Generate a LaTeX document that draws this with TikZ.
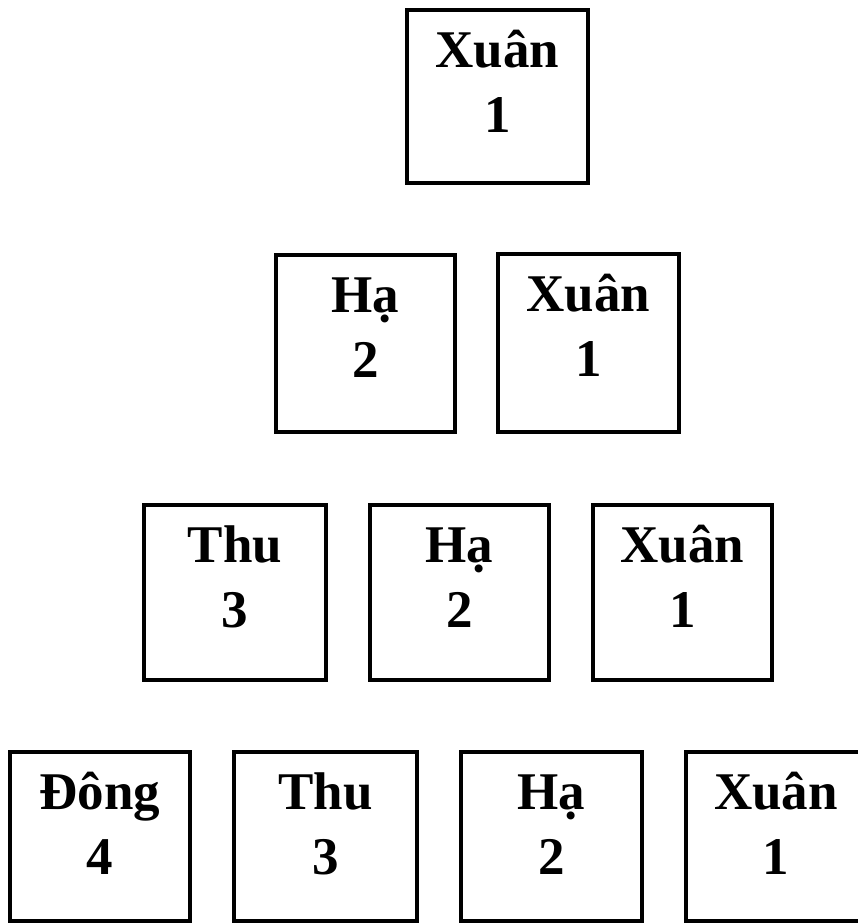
\documentclass[tikz,border=0pt]{standalone}
\usepackage{fontspec}
\setmainfont{Liberation Serif}
\usetikzlibrary{calc}
\begin{document}
\begin{tikzpicture}[x=1pt,y=-1pt,
  cellbox/.style={draw, rectangle, line width=3.5pt, inner sep=0pt},
  lbl/.style={anchor=base, inner sep=0pt, font=\fontsize{53}{62}\selectfont\bfseries}]
\useasboundingbox (0,0) rectangle (858,924);
\newcommand\seasonbox[7]{%
  \node[cellbox, minimum width={(#4-#2)*1pt}, minimum height={(#5-#3)*1pt}] (#1) at ({(#2+#4)/2},{(#3+#5)/2}) {};
  \node[lbl] (#1w) at ($(#1.north)+(0,59)$) {#6};
  \node[lbl] (#1n) at ($(#1.north)+(0,124)$) {#7};
}
% row 1
\seasonbox{ra}{407}{10}{588}{183}{Xuân}{1}
% row 2
\seasonbox{rba}{276}{255}{455}{432}{Hạ}{2}
\seasonbox{rbb}{498}{254}{679}{432}{Xuân}{1}
% row 3
\seasonbox{rca}{144}{505}{326}{680}{Thu}{3}
\seasonbox{rcb}{370}{505}{549}{680}{Hạ}{2}
\seasonbox{rcc}{593}{505}{772}{680}{Xuân}{1}
% row 4
\seasonbox{rda}{10}{752}{190}{921}{Đông}{4}
\seasonbox{rdb}{234}{752}{417}{921}{Thu}{3}
\seasonbox{rdc}{461}{752}{642}{921}{Hạ}{2}
\seasonbox{rdd}{686}{752}{866}{921}{Xuân}{1}
\end{tikzpicture}
\end{document}
